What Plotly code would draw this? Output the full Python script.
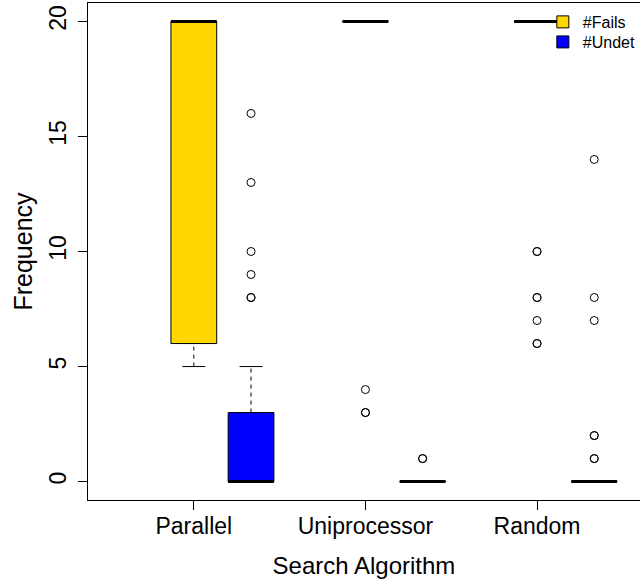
import plotly.graph_objects as go

# ---- data ----
groups = ["Parallel", "Uniprocessor", "Random"]
group_pos = [1, 4, 7]
fails_pos = [1, 4, 7]
undet_pos = [2, 5, 8]

fails_lower = [5, 20, 20]
fails_q1 = [6, 20, 20]
fails_median = [20, 20, 20]
fails_q3 = [20, 20, 20]
fails_upper = [20, 20, 20]
fails_outliers = [[], [4, 3, 3], [10, 10, 8, 8, 7, 6, 6]]

undet_lower = [0, 0, 0]
undet_q1 = [0, 0, 0]
undet_median = [0, 0, 0]
undet_q3 = [3, 0, 0]
undet_upper = [5, 0, 0]
undet_outliers = [[8, 8, 9, 10, 13, 16], [1, 1], [14, 8, 7, 2, 2, 1, 1]]

y_ticks = [0, 5, 10, 15, 20]

FONT = "Liberation Sans, Arial, Helvetica, sans-serif"
BOXW = 0.8

fig = go.Figure()


def add_series(name, legend_id, pos, lo, q1, med, q3, up, outl, color):
    fig.add_trace(go.Box(
        name=name, x=pos, q1=q1, median=med, q3=q3,
        lowerfence=q1, upperfence=q3, legend=legend_id,
        width=BOXW, fillcolor=color, line=dict(color="black", width=1),
        boxpoints=False, hoverinfo="skip", showlegend=True))
    # dashed whiskers
    wx, wy = [], []
    for p, a, b, c, d in zip(pos, lo, q1, q3, up):
        wx += [p, p, None, p, p, None]
        wy += [a, b, None, c, d, None]
    fig.add_trace(go.Scatter(x=wx, y=wy, mode="lines",
                             line=dict(color="black", width=1, dash="4px,4px"),
                             showlegend=False, hoverinfo="skip"))
    # staples
    sx, sy = [], []
    for p, a, d in zip(pos, lo, up):
        sx += [p - BOXW / 4, p + BOXW / 4, None, p - BOXW / 4, p + BOXW / 4, None]
        sy += [a, a, None, d, d, None]
    fig.add_trace(go.Scatter(x=sx, y=sy, mode="lines",
                             line=dict(color="black", width=1),
                             showlegend=False, hoverinfo="skip"))
    # medians
    mx, my = [], []
    for p, m in zip(pos, med):
        mx += [p - BOXW / 2, p + BOXW / 2, None]
        my += [m, m, None]
    fig.add_trace(go.Scatter(x=mx, y=my, mode="lines",
                             line=dict(color="black", width=3),
                             showlegend=False, hoverinfo="skip"))
    # outliers
    ox, oy = [], []
    for p, o in zip(pos, outl):
        ox += [p] * len(o)
        oy += o
    fig.add_trace(go.Scatter(x=ox, y=oy, mode="markers",
                             marker=dict(symbol="circle-open", size=8, color="black",
                                         line=dict(width=1, color="black")),
                             showlegend=False, hoverinfo="skip"))


add_series("#Fails", "legend", fails_pos, fails_lower, fails_q1, fails_median,
           fails_q3, fails_upper, fails_outliers, "#FFD700")
add_series("#Undet", "legend2", undet_pos, undet_lower, undet_q1, undet_median,
           undet_q3, undet_upper, undet_outliers, "#0000FF")

leg_common = dict(xanchor="left", yanchor="middle", bgcolor="rgba(0,0,0,0)",
                  font=dict(size=16, family=FONT), itemclick=False)

fig.update_layout(
    width=640, height=580,
    margin=dict(l=88, r=0, t=3, b=80, autoexpand=False),
    paper_bgcolor="white", plot_bgcolor="white",
    font=dict(family=FONT, size=23, color="black"),
    boxmode="overlay",
    legend=dict(x=0.824, y=0.9618, **leg_common),
    legend2=dict(x=0.824, y=0.9215, **leg_common),
    xaxis=dict(range=[-0.85, 8.8], tickmode="array", tickvals=group_pos,
               ticktext=groups, showline=True, linecolor="black", linewidth=1,
               mirror=True, ticks="outside", ticklen=9, tickcolor="black",
               showgrid=False, zeroline=False, automargin=False,
               ticklabelstandoff=-4,
               title=dict(text="Search Algorithm", standoff=19,
                          font=dict(family=FONT, size=24, color="black"))),
    yaxis=dict(range=[-0.8, 20.8], tickmode="array", tickvals=y_ticks,
               showline=True, linecolor="black", linewidth=1,
               ticks="outside", ticklen=9, tickcolor="black", tickangle=-90,
               showgrid=False, zeroline=False, automargin=False,
               ticklabelstandoff=3,
               title=dict(text="Frequency", standoff=5,
                          font=dict(family=FONT, size=25, color="black"))),
)

fig.write_html("out.html", config={"displayModeBar": False},
               post_script="document.body.style.margin='0';document.body.style.overflow='hidden';")
